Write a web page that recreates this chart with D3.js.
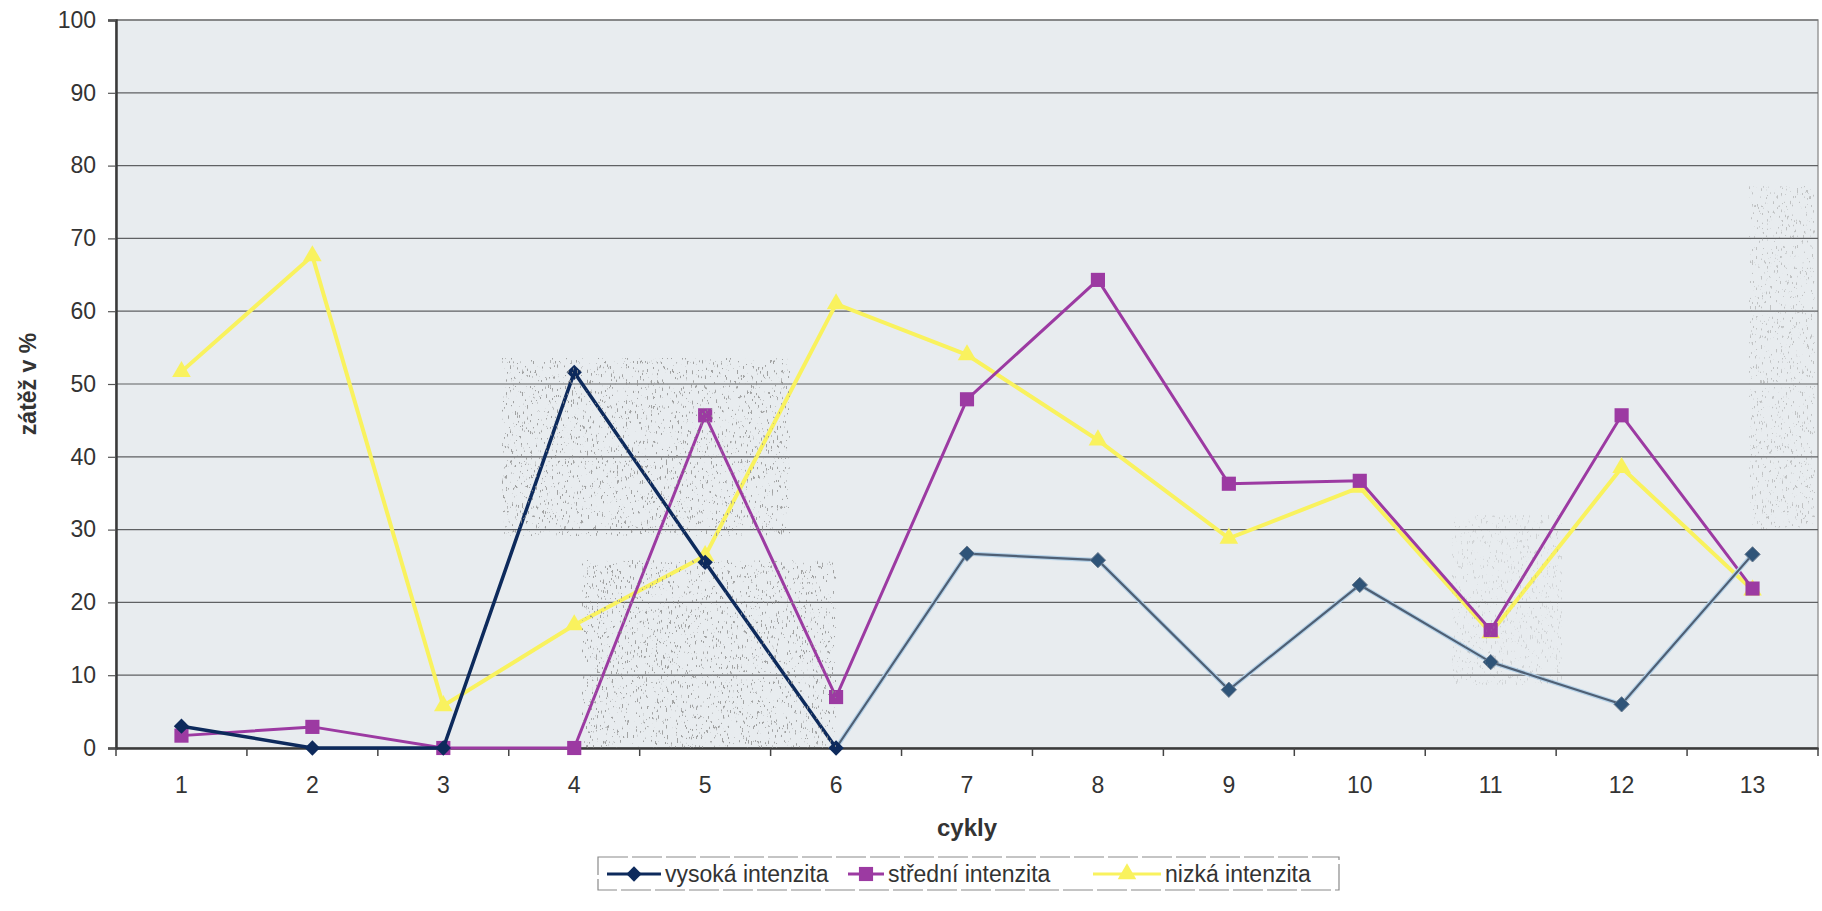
<!DOCTYPE html>
<html>
<head>
<meta charset="utf-8">
<script src="https://cdn.jsdelivr.net/npm/d3@7"></script>
<style>
  html, body { margin: 0; padding: 0; background: #fff; }
  svg { display: block; font-family: 'Liberation Sans', Arial, sans-serif; }
</style>
</head>
<body>
<div class="graph"></div>
<script>
// Data
var categories = ['1', '2', '3', '4', '5', '6', '7', '8', '9', '10', '11', '12', '13'];
var vysoka = [3, 0, 0, 51.6, 25.5, 0, 26.7, 25.8, 8, 22.4, 11.8, 6, 26.6];
var stredni = [1.7, 2.9, 0, 0, 45.7, 7, 47.9, 64.3, 36.3, 36.7, 16.2, 45.7, 21.9];
var nizka = [51.7, 67.6, 5.8, 16.9, 26.4, 61, 54, 42.3, 28.8, 35.8, 15.8, 38.5, 21.7];
var yTicks = [0, 10, 20, 30, 40, 50, 60, 70, 80, 90, 100];
var seriesNames = ['vysoká intenzita', 'střední intenzita', 'nizká intenzita'];

var config = {
  width: 1822,
  height: 911,
  margin: {left: 116, right: 4, top: 20, bottom: 163},
  bg: '#e8ecef',
  navy: '#0d2a5c',
  navyFaded: '#4e5f74',
  magenta: '#9c3aa2',
  yellow: '#f9f25e',
  // scanner speckle areas (page pixels)
  speckles: [
    {x: 502, y: 358, w: 288, h: 178, o: 0.8},
    {x: 582, y: 560, w: 254, h: 188, o: 0.8},
    {x: 1749, y: 186, w: 66, h: 343, o: 0.45},
    {x: 1452, y: 515, w: 110, h: 170, o: 0.25}
  ]
};

var svg = d3.select('.graph')
  .append('svg')
  .attr('width', config.width)
  .attr('height', config.height);

var innerW = config.width - config.margin.left - config.margin.right,
    innerH = config.height - config.margin.top - config.margin.bottom;

// Speckle filter
var filter = svg.append('defs')
  .append('filter')
  .attr('id', 'speckle')
  .attr('x', 0).attr('y', 0).attr('width', 1).attr('height', 1);
filter.append('feTurbulence')
  .attr('type', 'fractalNoise')
  .attr('baseFrequency', '0.8 0.2')
  .attr('numOctaves', 2)
  .attr('seed', 7);
filter.append('feColorMatrix')
  .attr('type', 'matrix')
  .attr('values', '0 0 0 0 0.28  0 0 0 0 0.28  0 0 0 0 0.28  -16 0 0 0 5.5');
filter.append('feComposite')
  .attr('in2', 'SourceGraphic')
  .attr('operator', 'in');

var g = svg.append('g')
  .attr('transform', 'translate(' + config.margin.left + ',' + config.margin.top + ')');

// Scales
var x = d3.scaleBand().domain(categories).range([0, innerW]).padding(0);
var y = d3.scaleLinear().domain([0, 100]).range([innerH, 0]);
var cx = function(c){ return x(c) + x.bandwidth()/2; };

// Plot background
g.append('rect')
  .attr('width', innerW)
  .attr('height', innerH)
  .attr('fill', config.bg)
  .attr('stroke', '#9a9a9a')
  .attr('stroke-width', 1.5);

svg.selectAll('.speckle')
  .data(config.speckles)
  .enter()
  .append('rect')
  .attr('x', function(d){ return d.x; })
  .attr('y', function(d){ return d.y; })
  .attr('width', function(d){ return d.w; })
  .attr('height', function(d){ return d.h; })
  .attr('fill', '#000')
  .attr('opacity', function(d){ return d.o; })
  .attr('filter', 'url(#speckle)');

// Gridlines
g.selectAll('.grid')
  .data(yTicks.slice(1))
  .enter()
  .append('line')
  .attr('x1', 0)
  .attr('x2', innerW)
  .attr('y1', function(d){ return y(d); })
  .attr('y2', function(d){ return y(d); })
  .attr('stroke', '#5f6163')
  .attr('stroke-width', 1.2);

// Y axis
var yAxis = g.append('g')
  .call(d3.axisLeft(y).tickValues(yTicks).tickSize(8).tickPadding(12));
yAxis.select('.domain').attr('stroke', '#3a3a3a').attr('stroke-width', 2.5);
yAxis.selectAll('.tick line').attr('stroke', '#555').attr('stroke-width', 1.2);
yAxis.selectAll('.tick text')
  .attr('font-size', 23)
  .attr('fill', '#333')
  .attr('font-family', "'Liberation Sans', Arial, sans-serif");

// X axis: ticks between categories
var xAxis = g.append('g')
  .attr('transform', 'translate(0,' + innerH + ')')
  .call(d3.axisBottom(x).tickSize(0).tickPadding(29));
xAxis.select('.domain').attr('stroke', '#3a3a3a').attr('stroke-width', 2.5);
xAxis.selectAll('.tick text')
  .attr('font-size', 23)
  .attr('fill', '#333')
  .attr('font-family', "'Liberation Sans', Arial, sans-serif");

var boundaries = categories.map(function(c){ return x(c); }).concat([innerW]);
g.selectAll('.xtick')
  .data(boundaries)
  .enter()
  .append('line')
  .attr('x1', function(d){ return d; })
  .attr('x2', function(d){ return d; })
  .attr('y1', innerH)
  .attr('y2', innerH + 8)
  .attr('stroke', '#444')
  .attr('stroke-width', 1.5);

// Axis titles
svg.append('text')
  .attr('transform', 'translate(36,' + (config.margin.top + innerH/2) + ') rotate(-90)')
  .attr('text-anchor', 'middle')
  .attr('font-size', 23)
  .attr('font-weight', 'bold')
  .attr('fill', '#333')
  .text('zátěž v %');

svg.append('text')
  .attr('x', config.margin.left + innerW/2)
  .attr('y', 836)
  .attr('text-anchor', 'middle')
  .attr('font-size', 24)
  .attr('font-weight', 'bold')
  .attr('fill', '#333')
  .text('cykly');

// Lines
var line = d3.line()
  .x(function(d){ return cx(d.c); })
  .y(function(d){ return y(d.v); });

function pts(values){
  return values.map(function(v, i){ return {c: categories[i], v: v}; });
}

var nizkaPts = pts(nizka),
    stredniPts = pts(stredni),
    vysokaPts = pts(vysoka);

var diamond = d3.symbol().type(d3.symbolDiamond2).size(150);
var square = d3.symbol().type(d3.symbolSquare).size(200);
var triangle = d3.symbol().type(d3.symbolTriangle).size(150);

// nízká (yellow)
g.append('path')
  .datum(nizkaPts)
  .attr('d', line)
  .attr('fill', 'none')
  .attr('stroke', config.yellow)
  .attr('stroke-width', 4);
g.selectAll('.tri')
  .data(nizkaPts)
  .enter()
  .append('path')
  .attr('d', triangle)
  .attr('transform', function(d){ return 'translate(' + cx(d.c) + ',' + y(d.v) + ')'; })
  .attr('fill', config.yellow);

// střední (magenta)
g.append('path')
  .datum(stredniPts)
  .attr('d', line)
  .attr('fill', 'none')
  .attr('stroke', config.magenta)
  .attr('stroke-width', 3);
g.selectAll('.sq')
  .data(stredniPts)
  .enter()
  .append('path')
  .attr('d', square)
  .attr('transform', function(d){ return 'translate(' + cx(d.c) + ',' + y(d.v) + ')'; })
  .attr('fill', config.magenta);

// vysoká (navy, scanned lighter after cycle 6)
g.append('path')
  .datum(vysokaPts.slice(0, 6))
  .attr('d', line)
  .attr('fill', 'none')
  .attr('stroke', config.navy)
  .attr('stroke-width', 3.5);
g.append('path')
  .datum(vysokaPts.slice(5))
  .attr('d', line)
  .attr('fill', 'none')
  .attr('stroke', '#b6d2e8')
  .attr('stroke-width', 4.5);
g.append('path')
  .datum(vysokaPts.slice(5))
  .attr('d', line)
  .attr('fill', 'none')
  .attr('stroke', config.navyFaded)
  .attr('stroke-width', 2.2);
g.selectAll('.dia')
  .data(vysokaPts)
  .enter()
  .append('path')
  .attr('d', diamond)
  .attr('transform', function(d){ return 'translate(' + cx(d.c) + ',' + y(d.v) + ')'; })
  .attr('fill', function(d, i){ return i <= 5 ? config.navy : '#2f5478'; })
  .attr('stroke', function(d, i){ return i <= 5 ? 'none' : '#6a7c90'; })
  .attr('stroke-width', 1);

// Legend
var legend = svg.append('g').attr('transform', 'translate(598,857)');
legend.append('rect')
  .attr('width', 741)
  .attr('height', 33)
  .attr('fill', '#fff')
  .attr('stroke', '#8a8a8a')
  .attr('stroke-width', 1.2)
  .attr('stroke-dasharray', '30,4');

var legendItems = [
  {name: seriesNames[0], color: config.navy, sym: diamond, lx: 9, tx: 67},
  {name: seriesNames[1], color: config.magenta, sym: square, lx: 250, tx: 290},
  {name: seriesNames[2], color: config.yellow, sym: triangle, lx: 495, tx: 567}
];

var item = legend.selectAll('.item')
  .data(legendItems)
  .enter()
  .append('g');
item.append('line')
  .attr('x1', function(d){ return d.lx; })
  .attr('x2', function(d){ return d.tx - 4; })
  .attr('y1', 17)
  .attr('y2', 17)
  .attr('stroke', function(d){ return d.color; })
  .attr('stroke-width', 3);
item.append('path')
  .attr('d', function(d){ return d.sym(); })
  .attr('transform', function(d){ return 'translate(' + ((d.lx + d.tx - 4)/2) + ',17)'; })
  .attr('fill', function(d){ return d.color; });
item.append('text')
  .attr('x', function(d){ return d.tx; })
  .attr('y', 25)
  .attr('font-size', 23)
  .attr('fill', '#333')
  .text(function(d){ return d.name; });
</script>
</body>
</html>
